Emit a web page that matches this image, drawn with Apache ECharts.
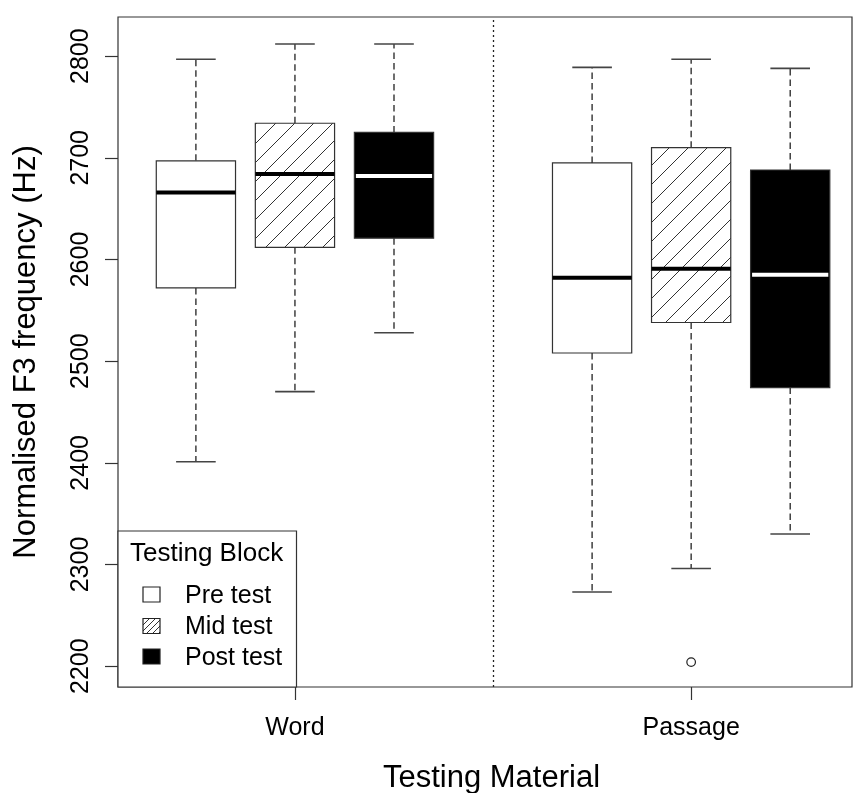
<!DOCTYPE html>
<html>
<head>
<meta charset="utf-8">
<script src="https://cdn.jsdelivr.net/npm/echarts@6/dist/echarts.min.js"></script>
<style>
  html, body { margin: 0; padding: 0; background: #ffffff; }
  #chart { width: 854px; height: 793px; }
</style>
</head>
<body>
<div id="chart"></div>
<script>
// Testing material groups and testing blocks
const materials = ['Word', 'Passage'];
const materialTicks = [2, 6];
const blocks = ['Pre test', 'Mid test', 'Post test'];
const wordPositions = [1, 2, 3];
const passagePositions = [5, 6, 7];

// Box statistics: [lower whisker, Q1, median, Q3, upper whisker]
const wordStats = [
  [2401, 2572, 2666, 2697, 2797],
  [2470, 2612, 2684, 2734, 2812],
  [2528, 2621, 2682, 2725, 2812]
];
const passageStats = [
  [2273, 2508, 2582, 2695, 2789],
  [2296, 2538, 2591, 2710, 2797],
  [2330, 2474, 2585, 2688, 2788]
];
// Outlying observations: [position, value]
const outliers = [[6, 2204]];

const yTicks = [2200, 2300, 2400, 2500, 2600, 2700, 2800];
const dividerPosition = 4;

const FONT = '"Liberation Sans", Arial, sans-serif';
const INK = '#222222';

// Diagonal hatch tile ("/" lines) on white
function hatchTile(step, lineWidth) {
  const c = document.createElement('canvas');
  c.width = step; c.height = step;
  const g = c.getContext('2d');
  g.fillStyle = '#ffffff';
  g.fillRect(0, 0, step, step);
  g.strokeStyle = '#333333';
  g.lineWidth = lineWidth;
  g.beginPath();
  g.moveTo(-1, step + 1); g.lineTo(step + 1, -1);
  g.moveTo(-step / 2 - 1, step / 2 + 1); g.lineTo(step / 2 + 1, -step / 2 - 1);
  g.moveTo(step / 2 - 1, step * 1.5 + 1); g.lineTo(step * 1.5 + 1, step / 2 - 1);
  g.stroke();
  return c;
}
const boxHatch = { image: hatchTile(19, 1), repeat: 'repeat' };
const keyHatch = { image: hatchTile(6, 1), repeat: 'repeat' };

const fills = ['#ffffff', boxHatch, '#000000'];
const medianColors = ['#000000', '#000000', '#ffffff'];

// Rows for the custom box series: [position, lw, q1, med, q3, uw, blockIndex]
const boxRows = [];
wordStats.forEach((s, i) => boxRows.push([wordPositions[i], ...s, i]));
passageStats.forEach((s, i) => boxRows.push([passagePositions[i], ...s, i]));

function renderBox(params, api) {
  const x = api.value(0);
  const b = api.value(6);
  const pLw = api.coord([x, api.value(1)]);
  const pQ1 = api.coord([x, api.value(2)]);
  const pMed = api.coord([x, api.value(3)]);
  const pQ3 = api.coord([x, api.value(4)]);
  const pUw = api.coord([x, api.value(5)]);
  const halfBox = api.size([0.8, 0])[0] / 2;
  const halfCap = api.size([0.4, 0])[0] / 2;
  const cx = pMed[0];
  const whisker = { stroke: INK, lineWidth: 1.3, lineDash: [6.5, 4] };
  const cap = { stroke: '#444444', lineWidth: 1.6 };
  const inset = b === 2 ? 1.5 : 0;
  return {
    type: 'group',
    children: [
      { type: 'line', shape: { x1: cx, y1: pQ3[1], x2: cx, y2: pUw[1] }, style: whisker },
      { type: 'line', shape: { x1: cx, y1: pQ1[1], x2: cx, y2: pLw[1] }, style: whisker },
      { type: 'line', shape: { x1: cx - halfCap, y1: pUw[1], x2: cx + halfCap, y2: pUw[1] }, style: cap },
      { type: 'line', shape: { x1: cx - halfCap, y1: pLw[1], x2: cx + halfCap, y2: pLw[1] }, style: cap },
      {
        type: 'rect',
        shape: { x: cx - halfBox, y: pQ3[1], width: halfBox * 2, height: pQ1[1] - pQ3[1] },
        style: { fill: fills[b], stroke: '#333333', lineWidth: 1.2 }
      },
      {
        type: 'line',
        shape: { x1: cx - halfBox + inset, y1: pMed[1], x2: cx + halfBox - inset, y2: pMed[1] },
        style: { stroke: medianColors[b], lineWidth: 4 }
      }
    ]
  };
}

// Outlier points drawn as open circles
function renderOutlier(params, api) {
  const p = api.coord([api.value(0), api.value(1)]);
  return {
    type: 'circle',
    shape: { cx: p[0], cy: p[1], r: 4.3 },
    style: { fill: '#ffffff', stroke: INK, lineWidth: 1.2 }
  };
}

// Key box for the testing blocks
const keyLeft = 118, keyTop = 531, keyWidth = 178.5, keyHeight = 156;
const keyRows = [594.5, 626, 656.5];
const keyFills = ['#ffffff', keyHatch, '#000000'];
const keyGraphics = [
  {
    type: 'rect', z: 100,
    shape: { x: keyLeft, y: keyTop, width: keyWidth, height: keyHeight },
    style: { fill: '#ffffff', stroke: '#333333', lineWidth: 1.2 }
  },
  {
    type: 'text', z: 101, x: 130, y: 554,
    style: { text: 'Testing Block', font: '26px ' + FONT, fill: '#000', verticalAlign: 'middle', align: 'left' }
  }
];
blocks.forEach((name, i) => {
  keyGraphics.push({
    type: 'rect', z: 101,
    shape: { x: 143, y: keyRows[i] - 7.5, width: 17, height: 15 },
    style: { fill: keyFills[i], stroke: '#222222', lineWidth: 1.2 }
  });
  keyGraphics.push({
    type: 'text', z: 101, x: 185, y: keyRows[i] + 1.5,
    style: { text: name, font: '25px ' + FONT, fill: '#000', verticalAlign: 'middle', align: 'left' }
  });
});

const chart = echarts.init(document.getElementById('chart'), null, { renderer: 'canvas' });
chart.setOption({
  animation: false,
  backgroundColor: '#ffffff',
  textStyle: { fontFamily: FONT },
  grid: {
    left: 118, right: 2, top: 17, bottom: 106,
    show: true, borderColor: '#333333', borderWidth: 1.2, backgroundColor: 'transparent',
    containLabel: false, outerBoundsMode: 'none'
  },
  xAxis: {
    type: 'value',
    min: 0.2135, max: 7.624,
    name: 'Testing Material',
    nameLocation: 'middle',
    nameGap: 76,
    nameTextStyle: { fontSize: 31, color: '#000', fontFamily: FONT, padding: [0, 0, 0, 13] },
    axisLine: { show: false },
    splitLine: { show: false },
    axisTick: { show: true, length: 13, customValues: materialTicks, lineStyle: { color: '#333', width: 1.2 } },
    axisLabel: {
      customValues: materialTicks,
      formatter: v => materials[materialTicks.indexOf(v)],
      fontSize: 25, color: '#000', margin: 29, fontFamily: FONT
    }
  },
  yAxis: {
    type: 'value',
    min: 2179.5, max: 2838.5,
    name: 'Normalised F3 frequency (Hz)',
    nameLocation: 'middle',
    nameGap: 76,
    nameTextStyle: { fontSize: 31, color: '#000', fontFamily: FONT },
    axisLine: { show: false },
    splitLine: { show: false },
    axisTick: { show: true, length: 13, customValues: yTicks, lineStyle: { color: '#333', width: 1.2 } },
    axisLabel: {
      customValues: yTicks,
      formatter: v => String(v),
      rotate: 90,
      fontSize: 25, color: '#000', margin: 24, fontFamily: FONT
    }
  },
  series: [
    {
      type: 'custom',
      name: 'boxes',
      renderItem: renderBox,
      encode: { x: 0, y: [1, 2, 3, 4, 5] },
      data: boxRows,
      z: 3
    },
    {
      type: 'custom',
      name: 'outliers',
      renderItem: renderOutlier,
      encode: { x: 0, y: 1 },
      data: outliers,
      z: 4,
      markLine: {
        silent: true,
        symbol: 'none',
        label: { show: false },
        lineStyle: { color: '#222222', type: [2, 3], width: 1.3 },
        data: [{ xAxis: dividerPosition }]
      }
    }
  ],
  graphic: keyGraphics
});
</script>
</body>
</html>
